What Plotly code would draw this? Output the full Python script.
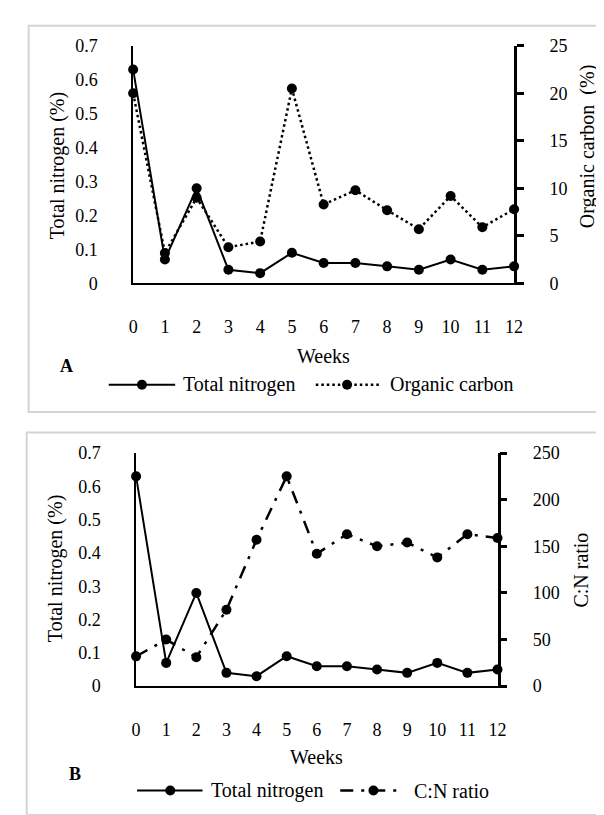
import plotly.graph_objects as go

# ---------------- data ----------------
weeks = list(range(13))
week_labels = [str(w) for w in weeks]
total_nitrogen = [0.63, 0.07, 0.28, 0.04, 0.03, 0.09, 0.06, 0.06, 0.05, 0.04, 0.07, 0.04, 0.05]
organic_carbon = [20.0, 3.2, 9.0, 3.8, 4.4, 20.5, 8.3, 9.8, 7.7, 5.7, 9.2, 5.9, 7.8]
cn_ratio = [32, 50, 31, 82, 157, 225, 142, 163, 150, 154, 138, 163, 159]
tn_ticks = [0, 0.1, 0.2, 0.3, 0.4, 0.5, 0.6, 0.7]
tn_ticktext = ["0", "0.1", "0.2", "0.3", "0.4", "0.5", "0.6", "0.7"]
oc_ticks = [0, 5, 10, 15, 20, 25]
cn_ticks = [0, 50, 100, 150, 200, 250]

# ---------------- layout helpers ----------------
W, H = 604, 815
FONT = "Liberation Serif, Times New Roman, serif"


def px(x):
    return x / W


def py(y):
    return 1 - y / H


fig = go.Figure()

marker = dict(size=10, color="black")
CN_DASH = "13px,8px,3px,8px"
OC_DASH = "2.5px,3px"

# Panel A
fig.add_trace(go.Scatter(x=weeks, y=total_nitrogen, mode="lines+markers", name="Total nitrogen",
                         line=dict(color="black", width=2), marker=marker,
                         xaxis="x", yaxis="y", cliponaxis=False, showlegend=False))
fig.add_trace(go.Scatter(x=weeks, y=organic_carbon, mode="lines+markers", name="Organic carbon",
                         line=dict(color="black", width=2.5, dash=OC_DASH), marker=marker,
                         xaxis="x", yaxis="y2", cliponaxis=False, showlegend=False))
# Panel B
fig.add_trace(go.Scatter(x=weeks, y=total_nitrogen, mode="lines+markers", name="Total nitrogen",
                         line=dict(color="black", width=2), marker=marker,
                         xaxis="x2", yaxis="y3", cliponaxis=False, showlegend=False))
fig.add_trace(go.Scatter(x=weeks, y=cn_ratio, mode="lines+markers", name="C:N ratio",
                         line=dict(color="black", width=2.5, dash=CN_DASH), marker=marker,
                         xaxis="x2", yaxis="y4", cliponaxis=False, showlegend=False))

tickfont = dict(family=FONT, size=18, color="black")

common_x = dict(range=[0, 12], tickmode="array", tickvals=weeks, ticktext=week_labels,
                showline=True, linecolor="black", linewidth=2, ticks="",
                showgrid=False, zeroline=False, tickfont=tickfont, ticklabelstandoff=26,
                fixedrange=True)
left_y = dict(tickmode="array", tickvals=tn_ticks, ticktext=tn_ticktext, range=[0, 0.7],
              showline=True, linecolor="black", linewidth=1.5, ticks="",
              showgrid=False, zeroline=False, tickfont=tickfont, ticklabelstandoff=30,
              fixedrange=True)
right_y = dict(side="right", showline=True, linecolor="black", linewidth=2.5,
               ticks="outside", ticklen=7, tickwidth=2.5, tickcolor="black",
               showgrid=False, zeroline=False, tickfont=tickfont, ticklabelstandoff=22,
               fixedrange=True)

fig.update_layout(
    width=W, height=H, autosize=False,
    margin=dict(l=0, r=0, t=0, b=0),
    paper_bgcolor="white", plot_bgcolor="white",
    font=dict(family=FONT, size=18, color="black"),
    showlegend=False,
    xaxis=dict(common_x, domain=[px(123), px(513)], anchor="y"),
    yaxis=dict(left_y, domain=[py(272), py(28.5)], anchor="x"),
    yaxis2=dict(right_y, range=[0, 25], tickmode="array", tickvals=oc_ticks,
                overlaying="y", anchor="x"),
    xaxis2=dict(common_x, domain=[px(126), px(496)], anchor="y3"),
    yaxis3=dict(left_y, domain=[py(685), py(446)], anchor="x2"),
    yaxis4=dict(right_y, range=[0, 250], tickmode="array", tickvals=cn_ticks,
                overlaying="y3", anchor="x2"),
)

shapes = []
annotations = []

# panel frames
for (x0, y0, x1, y1) in [(16, 8, 606, 404), (14, 425, 606, 817)]:
    shapes.append(dict(type="rect", xref="paper", yref="paper",
                       x0=px(x0), x1=px(x1), y0=py(y1), y1=py(y0),
                       line=dict(color="#d4d4d4", width=2), layer="below"))


def text(t, x, y, size=20, angle=0, xanchor="center", bold=False):
    annotations.append(dict(text=("<b>%s</b>" % t) if bold else t, x=px(x), y=py(y),
                            xref="paper", yref="paper", showarrow=False, textangle=angle,
                            xanchor=xanchor, yanchor="middle",
                            font=dict(family=FONT, size=size, color="black")))


def legend_item(x0, x1, xm, y, dash, label, xt):
    shapes.append(dict(type="line", xref="paper", yref="paper",
                       x0=px(x0), x1=px(x1), y0=py(y), y1=py(y),
                       line=dict(color="black", width=2.5 if dash else 2, dash=dash or "solid")))
    shapes.append(dict(type="circle", xref="paper", yref="paper",
                       xsizemode="pixel", ysizemode="pixel",
                       xanchor=px(xm), yanchor=py(y), x0=-5, x1=5, y0=-5, y1=5,
                       fillcolor="black", line=dict(color="black", width=0)))
    text(label, xt, y, xanchor="left")


# Panel A texts
text("Total nitrogen (%)", 45, 151, angle=-90)
text("Organic carbon\u00a0 (%)", 588, 132, angle=-90)
text("Weeks", 318, 347)
text("A", 55, 357, size=18, bold=True)
legend_item(98, 166, 132, 376, None, "Total nitrogen", 172)
legend_item(310, 375, 342, 376, OC_DASH, "Organic carbon", 384)

# Panel B texts
text("Total nitrogen (%)", 43, 565, angle=-90)
text("C:N ratio", 582, 566, angle=-90)
text("Weeks", 311, 758)
text("B", 63, 775, size=18, bold=True)
legend_item(127, 194, 161, 792, None, "Total nitrogen", 201)
legend_item(335, 394, 369, 792, CN_DASH, "C:N ratio", 408)

fig.update_layout(shapes=shapes, annotations=annotations)

fig.write_html("out.html")
